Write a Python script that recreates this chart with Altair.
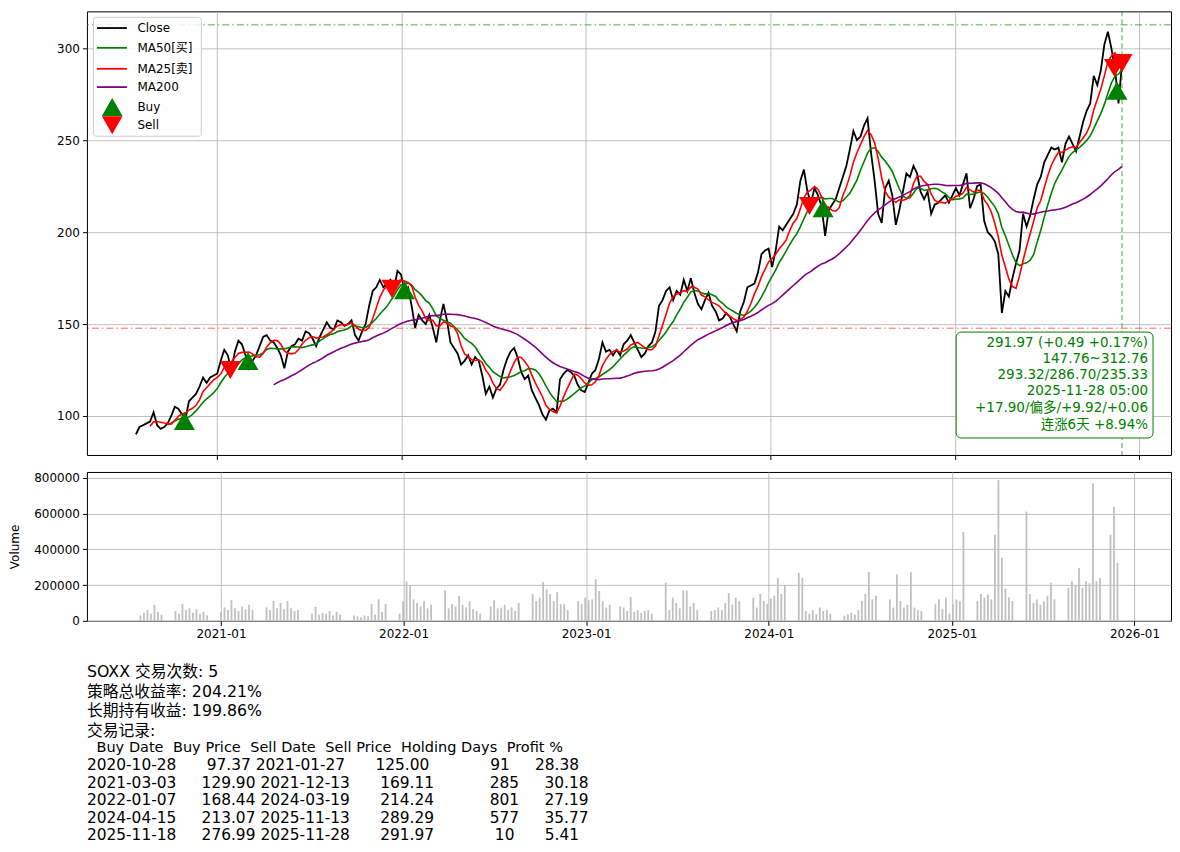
import altair as alt
import numpy as np
import pandas as pd

FONT = "DejaVu Sans, Noto Sans CJK SC"

# ---------------- data (weekly) ----------------
START = "2020-07-24"
close = [
    90, 94, 95, 96, 97, 102, 95, 93, 94, 96,
    100, 105, 104, 101, 98, 108, 110, 112, 116, 121,
    118, 121, 122, 123, 130, 136, 133, 125, 135, 141,
    139, 133, 126, 130, 133, 138, 143, 144, 141, 140,
    137, 133, 126, 135, 138, 139, 142, 141, 146, 145,
    142, 138, 143, 147, 151, 148, 147, 152, 151, 149,
    150, 152, 144, 141, 146, 150, 160, 168, 170, 174,
    170, 172, 174, 169, 179, 177, 168, 170, 160, 148,
    155, 152, 150, 155, 148, 140, 152, 161, 152, 140,
    137, 134, 128, 130, 133, 128, 132, 130, 122, 112,
    116, 110, 115, 117, 125, 131, 135, 137, 132, 124,
    120, 122, 114, 110, 106, 101, 98, 103, 104, 102,
    120, 123, 125, 124, 122, 117, 114, 113, 118, 123,
    125, 131, 140, 135, 136, 133, 136, 133, 139, 141,
    144, 140, 136, 132, 134, 138, 140, 146, 160, 163,
    168, 170, 163, 168, 166, 174, 168, 175, 167, 161,
    158, 163, 167, 160, 157, 152, 153, 156, 154, 150,
    146, 157, 162, 170, 171, 172, 178, 188, 190, 191,
    181, 190, 203, 201, 204, 207, 210, 215, 228, 234,
    222, 216, 224, 220, 214, 198, 212, 215, 218, 224,
    230, 236, 245, 255, 250, 252, 258, 262, 243, 228,
    210, 205, 224, 228, 220, 204, 212, 222, 232, 230,
    236, 232, 222, 218, 222, 210, 215, 216, 218, 220,
    216, 220, 224, 220, 226, 232, 213, 218, 225, 226,
    206, 200, 198, 195, 188, 156, 168, 165, 175, 183,
    190, 210, 203, 209, 218, 226, 230, 238, 242, 246,
    245, 246, 238, 248, 252, 248, 244, 252, 260, 266,
    270, 285, 280, 288, 302, 309, 300, 289, 270, 291.97,
]
volume_k = [
    30, 45, 60, 40, 89, 50, 35, 0, 0, 0,
    55, 40, 93, 60, 70, 45, 65, 40, 50, 30,
    0, 0, 0, 50, 75, 60, 117, 70, 55, 80,
    65, 90, 60, 0, 0, 0, 75, 60, 111, 70,
    100, 65, 110, 70, 55, 60, 0, 0, 0, 40,
    78, 35, 45, 40, 55, 30, 50, 35, 0, 0,
    0, 30, 25, 20, 30, 25, 93, 35, 120, 50,
    95, 0, 0, 0, 40, 110, 220, 195, 120, 100,
    80, 110, 70, 90, 0, 0, 0, 170, 70, 93,
    80, 139, 90, 75, 110, 65, 55, 40, 0, 0,
    80, 115, 70, 74, 90, 60, 75, 55, 100, 0,
    0, 0, 150, 111, 130, 217, 176, 150, 110, 160,
    93, 93, 60, 0, 0, 110, 93, 130, 115, 120,
    233, 167, 110, 74, 90, 0, 0, 80, 75, 55,
    133, 50, 60, 45, 55, 60, 40, 0, 0, 0,
    213, 60, 130, 100, 70, 170, 170, 80, 100, 60,
    0, 0, 0, 55, 60, 75, 60, 100, 155, 90,
    130, 110, 0, 0, 0, 130, 74, 150, 111, 95,
    125, 140, 240, 150, 200, 0, 0, 0, 268, 240,
    55, 40, 60, 37, 75, 55, 60, 40, 0, 0,
    0, 28, 37, 46, 35, 60, 111, 150, 274, 120,
    140, 0, 0, 0, 120, 74, 260, 110, 74, 90,
    272, 74, 60, 55, 0, 0, 0, 93, 120, 65,
    130, 40, 93, 120, 110, 496, 0, 0, 0, 110,
    150, 130, 148, 120, 481, 787, 352, 180, 130, 111,
    0, 0, 0, 611, 150, 100, 120, 90, 110, 140,
    213, 120, 0, 0, 0, 185, 222, 200, 296, 185,
    222, 210, 769, 222, 240, 0, 0, 481, 639, 324,
]
assert len(close) == len(volume_k) == 280, (len(close), len(volume_k))

buy_dates = ["2020-10-28", "2021-03-03", "2022-01-07", "2024-04-15", "2025-11-18"]
buy_prices = [97.37, 129.90, 168.44, 213.07, 276.99]
sell_dates = ["2021-01-27", "2021-12-13", "2024-03-19", "2025-11-13", "2025-11-28"]
sell_prices = [125.00, 169.11, 214.24, 289.29, 291.97]
holding_days = [91, 285, 801, 577, 10]
profits = [28.38, 30.18, 27.19, 35.77, 5.41]

range_low, range_high = 147.76, 312.76
last_date = "2025-11-28"

info_lines = ["291.97 (+0.49 +0.17%)", "147.76~312.76", "293.32/286.70/235.33",
              "2025-11-28 05:00", "+17.90/偏多/+9.92/+0.06", "连涨6天 +8.94%"]
summary_lines = ["SOXX 交易次数: 5", "策略总收益率: 204.21%", "长期持有收益: 199.86%", "交易记录:"]

legend_labels = ["Close", "MA50[买]", "MA25[卖]", "MA200", "Buy", "Sell"]
legend_colors = ["black", "green", "red", "purple", "green", "red"]
legend_kinds = ["line", "line", "line", "line", "triangle-up", "triangle-down"]

ma_names = ["MA50", "MA25", "MA200"]
ma_windows = [10, 5, 40]          # weeks  (50 / 25 / 200 trading days)
ma_colors = ["green", "red", "purple"]

# ---------------- frames ----------------
dates = pd.date_range(START, periods=len(close), freq="7D")
df = pd.DataFrame({"date": dates.strftime("%Y-%m-%d"), "close": close,
                   "volume": np.array(volume_k, dtype=float) * 1000})
for n, w in zip(ma_names, ma_windows):
    df[n] = pd.Series(close).rolling(w).mean().round(3)
ma_long = df.melt(id_vars="date", value_vars=ma_names, var_name="series",
                  value_name="value").dropna()
buy_df = pd.DataFrame({"date": buy_dates, "price": buy_prices})
sell_df = pd.DataFrame({"date": sell_dates, "price": sell_prices})

W, H_TOP, H_VOL = 1085, 444, 149

x_scale = alt.Scale(type="utc", domain=[alt.DateTime(year=2020, month=4, date=18, utc=True),
                                         alt.DateTime(year=2026, month=3, date=5, utc=True)])
year_ticks = [alt.DateTime(year=y, month=1, date=1, utc=True) for y in range(2021, 2027)]
y_scale = alt.Scale(domain=[78.8, 320.1], nice=False, zero=False)


def X(field="date:T", **kw):
    return alt.X(field, scale=x_scale, title=None, **kw)


def Y(field):
    return alt.Y(field, scale=y_scale, title=None)


def one():
    return alt.Chart(pd.DataFrame({"k": [0]}))


close_line = alt.Chart(df).mark_line(color="black", strokeWidth=1.8).encode(
    x=X(axis=alt.Axis(values=year_ticks, labels=False, grid=True, domain=False)),
    y=alt.Y("close:Q", scale=y_scale, title=None,
            axis=alt.Axis(values=[100, 150, 200, 250, 300], grid=True, domain=False)),
)
ma_lines = alt.Chart(ma_long).mark_line(strokeWidth=1.6).encode(
    x=X(), y=Y("value:Q"),
    color=alt.Color("series:N", scale=alt.Scale(domain=ma_names, range=ma_colors), legend=None),
)
hi_rule = alt.Chart(pd.DataFrame({"y": [range_high]})).mark_rule(
    color="#2ca02c", strokeDash=[7, 3, 1.5, 3], strokeWidth=1, opacity=0.85).encode(y=Y("y:Q"))
lo_rule = alt.Chart(pd.DataFrame({"y": [range_low]})).mark_rule(
    color="red", strokeDash=[7, 3, 1.5, 3], strokeWidth=1, opacity=0.6).encode(y=Y("y:Q"))
v_rule = alt.Chart(pd.DataFrame({"date": [last_date]})).mark_rule(
    color="green", strokeDash=[5, 3], strokeWidth=1, opacity=0.7).encode(x=X())
buys = alt.Chart(buy_df).mark_point(shape="triangle-up", filled=True, size=440,
                                    color="green", opacity=1).encode(x=X(), y=Y("price:Q"))
sells = alt.Chart(sell_df).mark_point(shape="triangle-down", filled=True, size=440,
                                      color="red", opacity=1).encode(x=X(), y=Y("price:Q"))

# info box (bottom right)
info_layers = [one().mark_rect(fill="white", stroke="green", strokeWidth=1, cornerRadius=5).encode(
    x=alt.value(870), x2=alt.value(1067), y=alt.value(321), y2=alt.value(427))]
info_y = [332, 348, 364, 380, 397, 414]
for t, yy in zip(info_lines, info_y):
    info_layers.append(one().mark_text(text=t, align="right", baseline="middle", fontSize=13.5,
                                       color="green", font=FONT).encode(x=alt.value(1062), y=alt.value(yy)))

# legend (top left)
leg_layers = [one().mark_rect(fill="white", fillOpacity=0.85, stroke="#cccccc", strokeWidth=1,
                              cornerRadius=3).encode(
    x=alt.value(6.5), x2=alt.value(114.5), y=alt.value(6), y2=alt.value(125))]
leg_y = [16.7, 36.5, 57.5, 75.8, 95.8, 114]
for lab, col, kind, yy in zip(legend_labels, legend_colors, legend_kinds, leg_y):
    if kind == "line":
        leg_layers.append(one().mark_rule(color=col, strokeWidth=1.8).encode(
            x=alt.value(10), x2=alt.value(40), y=alt.value(yy)))
    else:
        leg_layers.append(one().mark_point(shape=kind, filled=True, size=430, color=col, opacity=1).encode(
            x=alt.value(25.3), y=alt.value(yy)))
    leg_layers.append(one().mark_text(text=lab, align="left", baseline="middle", fontSize=12,
                                      color="black", font=FONT).encode(x=alt.value(50.5), y=alt.value(yy)))

top = alt.layer(close_line, ma_lines, hi_rule, lo_rule, v_rule, buys, sells,
                *info_layers, *leg_layers).properties(width=W, height=H_TOP)

# ---------------- volume + text ----------------
bars = alt.Chart(df).mark_bar(size=1.8, color="#c0c0c0").encode(
    x=X(axis=alt.Axis(values=year_ticks, format="%Y-%m", grid=True, domain=False, labelFlush=False)),
    y=alt.Y("volume:Q", scale=alt.Scale(domain=[0, 833000], nice=False),
            axis=alt.Axis(values=[0, 200000, 400000, 600000, 800000], format="d", title="Volume",
                          titlePadding=12, titleFontSize=12, titleFontWeight="normal", grid=True,
                          domain=False)),
)

SP = "\u2004"      # three-per-em space: keeps runs of spaces from collapsing
ZW = "\u200b"      # zero-width lead so leading spaces are not trimmed
header = (f"{'Buy Date':>10} {'Buy Price':>10} {'Sell Date':>10} {'Sell Price':>11} "
          f"{'Holding Days':>13} {'Profit %':>9}")
rows = [f"{bd:>10} {bp:>10.2f} {sd:>10} {sp:>11.2f} {hd:>13d} {pf:>9.2f}"
        for bd, bp, sd, sp, hd, pf in zip(buy_dates, buy_prices, sell_dates, sell_prices,
                                          holding_days, profits)]
text_layers = []
sum_y = [200.2, 219.9, 239.6, 259.3]
for t, yy in zip(summary_lines, sum_y):
    text_layers.append(one().mark_text(text=t, align="left", baseline="middle",
                                       fontSize=15.8, color="black", font=FONT).encode(
        x=alt.value(0), y=alt.value(yy)))
tab_y = [276.2, 293.7, 311.1, 328.5, 345.9, 363.3]
tab_size = [14.5] + [15.4] * len(rows)
for t, yy, fs in zip([header] + rows, tab_y, tab_size):
    text_layers.append(one().mark_text(text=ZW + t.replace(" ", SP), align="left", baseline="middle",
                                       fontSize=fs, color="black", font=FONT).encode(
        x=alt.value(0), y=alt.value(yy)))

vol = alt.layer(bars, *text_layers).properties(width=W, height=H_VOL)

chart = alt.vconcat(top, vol, spacing=10).properties(
    padding={"left": 0, "top": 2, "right": 0, "bottom": 0}
).configure(font=FONT).configure_view(stroke="black", strokeWidth=1).configure_axis(
    labelFont=FONT, titleFont=FONT, labelFontSize=12, labelColor="black", titleColor="black",
    tickColor="black", domainColor="black", gridColor="#b0b0b0", gridWidth=0.8,
    tickSize=4.5, labelPadding=3,
)

chart.save("out.html", embed_options={"renderer": "svg", "actions": False})
